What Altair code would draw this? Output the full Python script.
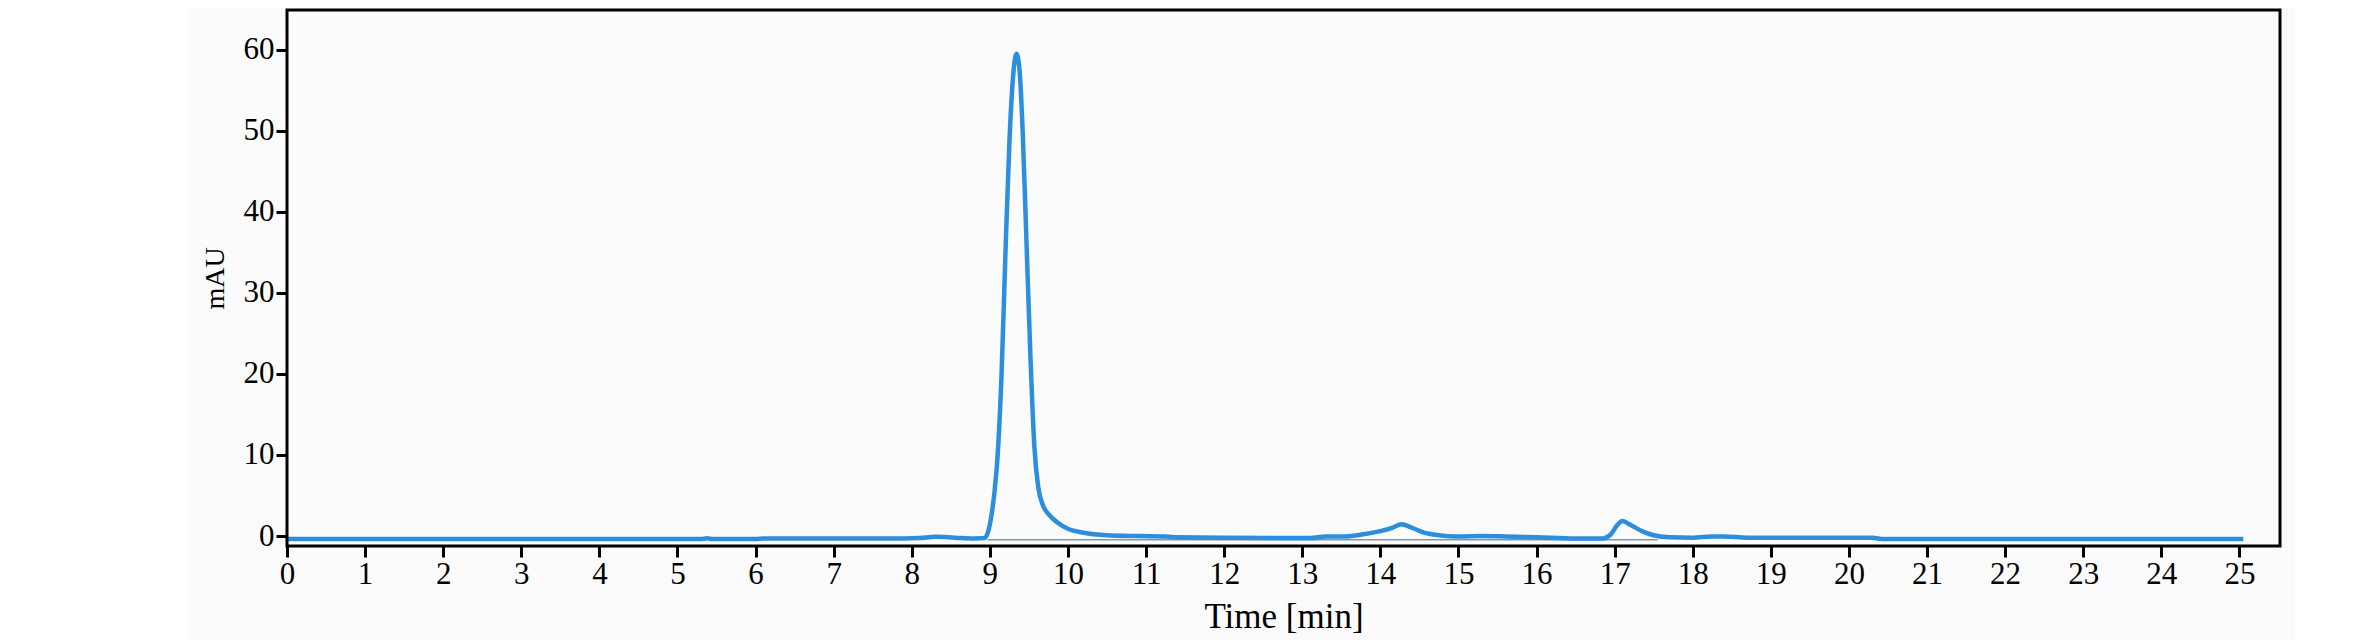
import altair as alt
import pandas as pd

# ---- data ----
time_min = [0, 5.3, 5.38, 5.45, 6.0, 6.1, 7.9, 8.1, 8.3, 8.55, 8.8, 8.93, 8.98,
            9.02, 9.06, 9.1, 9.15, 9.2, 9.25, 9.3, 9.34, 9.38, 9.42, 9.47, 9.52,
            9.57, 9.62, 9.68, 9.76, 9.86, 10.0, 10.2, 10.5, 10.9, 11.25, 11.35,
            12.0, 12.8, 13.1, 13.3, 13.55, 13.8, 14.0, 14.15, 14.27, 14.4, 14.55,
            14.75, 15.0, 15.3, 15.6, 16.0, 16.5, 16.85, 16.95, 17.03, 17.1, 17.2,
            17.35, 17.5, 17.7, 18.0, 18.25, 18.4, 18.7, 19.5, 20.3, 20.45, 21.0,
            25.05]
mau = [-0.38, -0.38, -0.28, -0.38, -0.38, -0.3, -0.3, -0.25, -0.1, -0.2, -0.3,
       -0.25, 0.6, 2.5, 5.5, 10, 20, 35, 48.5, 57, 59.5, 57.5, 50, 36, 22, 11,
       6, 3.8, 2.6, 1.7, 0.9, 0.4, 0.1, 0.0, -0.05, -0.15, -0.2, -0.25, -0.25,
       -0.05, -0.05, 0.25, 0.6, 1.0, 1.45, 1.05, 0.45, 0.1, -0.05, 0.0, -0.05,
       -0.15, -0.3, -0.3, 0.2, 1.3, 1.85, 1.4, 0.6, 0.1, -0.15, -0.2, -0.05,
       -0.05, -0.2, -0.2, -0.22, -0.38, -0.38, -0.38]

baseline_time = [8.97, 17.55]
baseline_mau = [-0.45, -0.45]

x_ticks = list(range(0, 26))
y_ticks = [0, 10, 20, 30, 40, 50, 60]

W, H = 1993, 536
FONT = "Liberation Serif"

curve = pd.DataFrame({"t": time_min, "v": mau})
base = pd.DataFrame({"t": baseline_time, "v": baseline_mau})
one = pd.DataFrame({"k": [0]})

x_scale = alt.Scale(domain=[0, 25.52], nice=False, zero=False)
y_scale = alt.Scale(domain=[-1.23, 64.9], nice=False, zero=False)

x_axis = alt.Axis(values=x_ticks, grid=False, domain=False, tickSize=11,
                  tickWidth=3, tickColor="#000", labelFont=FONT,
                  labelFontSize=31, labelColor="#000", labelPadding=2,
                  labelFlush=False, title="Time [min]", titleFont=FONT,
                  titleFontSize=35, titleFontWeight="normal",
                  titleColor="#000", titlePadding=10, zindex=1)
y_axis = alt.Axis(values=y_ticks, grid=False, domain=False, tickSize=11,
                  tickWidth=3, tickColor="#000", labelFont=FONT,
                  labelFontSize=31, labelColor="#000", labelPadding=2,
                  labelFlush=False, title="mAU", titleFont=FONT,
                  titleFontSize=28, titleFontWeight="normal",
                  titleColor="#000", titlePadding=14, zindex=1)

bg = alt.Chart(one).mark_rect(color="#fbfbfb", clip=False).encode(
    x=alt.value(-98), x2=alt.value(2008), y=alt.value(-10), y2=alt.value(H + 94)
)

base_line = alt.Chart(base).mark_line(color="#7f9aa6", strokeWidth=1.5).encode(
    x=alt.X("t:Q", scale=x_scale, axis=x_axis),
    y=alt.Y("v:Q", scale=y_scale, axis=y_axis),
)

curve_line = alt.Chart(curve).mark_line(
    color="#2e8ede", strokeWidth=4.5, interpolate="monotone"
).encode(
    x=alt.X("t:Q", scale=x_scale, axis=x_axis),
    y=alt.Y("v:Q", scale=y_scale, axis=y_axis),
)

frame = alt.Chart(one).mark_rect(
    fillOpacity=0, stroke="#000", strokeWidth=3, clip=False
).encode(
    x=alt.value(0), x2=alt.value(W), y=alt.value(0), y2=alt.value(H)
)

chart = alt.layer(bg, base_line, curve_line, frame).properties(
    width=W, height=H,
    autosize=alt.AutoSizeParams(type="none"),
    padding={"left": 279, "top": 2, "right": 60, "bottom": 94},
    background="white",
).configure_view(stroke=None)

chart.save("out.html", embed_options={"renderer": "svg", "actions": False})
